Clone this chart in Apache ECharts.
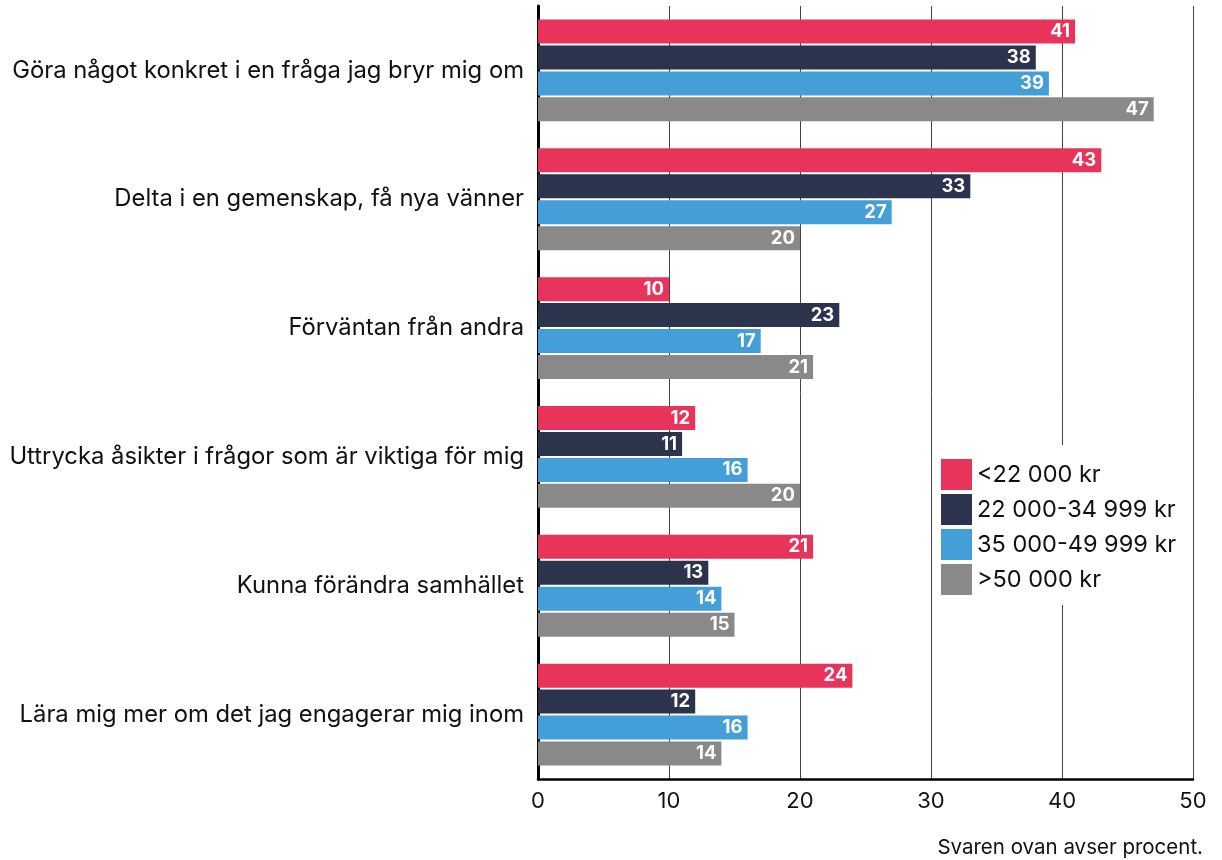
<!DOCTYPE html>
<html>
<head>
<meta charset="utf-8">
<script src="https://cdn.jsdelivr.net/npm/echarts@6/dist/echarts.min.js"></script>
<style>
  html, body { margin: 0; padding: 0; background: #fff; }
  #chart { width: 1222px; height: 860px; }
</style>
</head>
<body>
<div id="chart"></div>
<script>
// categories, top to bottom
var categories = [
  'Göra något konkret i en fråga jag bryr mig om',
  'Delta i en gemenskap, få nya vänner',
  'Förväntan från andra',
  'Uttrycka åsikter i frågor som är viktiga för mig',
  'Kunna förändra samhället',
  'Lära mig mer om det jag engagerar mig inom'
]
var seriesNames = ['<22 000 kr', '22 000-34 999 kr', '35 000-49 999 kr', '>50 000 kr']
var under22 = [41, 43, 10, 12, 21, 24]
var from22to35 = [38, 33, 23, 11, 13, 12]
var from35to50 = [39, 27, 17, 16, 14, 16]
var over50 = [47, 20, 21, 20, 15, 14]
var colors = ['#e8345a', '#2b334d', '#449fd8', '#898989']

var chart = echarts.init(document.getElementById('chart'))

function makeSeries (name, data, color) {
  return {
    name: name,
    type: 'bar',
    data: data,
    barWidth: 24,
    barGap: '8%',
    itemStyle: { color: color },
    label: {
      show: true,
      position: 'insideRight',
      distance: 5,
      color: '#fff',
      fontFamily: 'Inter',
      fontWeight: 'bold',
      fontSize: 18.5
    }
  }
}

var option = {
  backgroundColor: '#fff',
  animation: false,
  color: colors,
  textStyle: { fontFamily: 'Inter' },
  grid: { left: 538, right: 29, top: 6, bottom: 81 },
  legend: {
    orient: 'vertical',
    left: 932,
    top: 445,
    backgroundColor: '#fff',
    padding: [14, 16, 10, 9],
    itemWidth: 31,
    itemHeight: 31,
    itemGap: 4,
    icon: 'rect',
    textStyle: { fontSize: 23.5, color: '#111', fontFamily: 'Inter' },
    data: seriesNames
  },
  xAxis: {
    type: 'value',
    min: 0,
    max: 50,
    interval: 10,
    axisLine: { show: true, lineStyle: { color: '#000', width: 2.5 } },
    axisTick: { show: false },
    axisLabel: { color: '#111', fontSize: 22, margin: 11 },
    splitLine: { show: true, lineStyle: { color: '#444', width: 1 } }
  },
  yAxis: {
    type: 'category',
    inverse: true,
    data: categories,
    axisLine: { show: true, lineStyle: { color: '#000', width: 3 } },
    axisTick: { show: false },
    axisLabel: { color: '#111', fontSize: 23.8, margin: 14 }
  },
  graphic: [
    {
      type: 'text',
      right: 19,
      top: 837,
      style: { text: 'Svaren ovan avser procent.', fontSize: 20.5, fill: '#111', fontFamily: 'Inter' }
    }
  ],
  series: [
    makeSeries(seriesNames[0], under22, colors[0]),
    makeSeries(seriesNames[1], from22to35, colors[1]),
    makeSeries(seriesNames[2], from35to50, colors[2]),
    makeSeries(seriesNames[3], over50, colors[3])
  ]
}

chart.setOption(option)
</script>
</body>
</html>
